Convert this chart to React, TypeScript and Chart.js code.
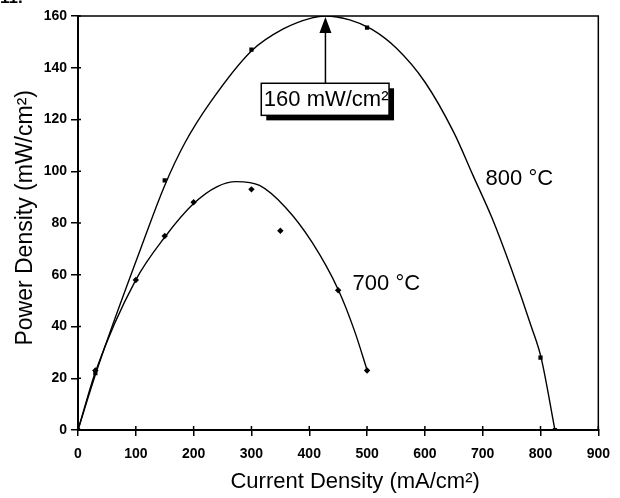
import { useEffect, useRef } from "react";
import { Chart, registerables } from "chart.js";

Chart.register(...registerables);

// ---- data ----
const fit800X = [0, 31, 59, 105, 150, 185, 230, 300, 355, 405, 428, 470, 507, 550, 600, 650, 683, 716, 750, 784, 801, 825];
const fit800Y = [0, 22, 40, 68, 94.5, 111, 127, 146.5, 155, 159.3, 160, 158.5, 155, 147.7, 134.5, 115, 98.5, 82, 62, 40, 28, 0];

const fit700X = [0, 31, 100, 150, 200, 240, 274, 314, 359, 405, 450, 478, 501];
const fit700Y = [0, 23, 58, 74.5, 87.5, 94, 96, 94.5, 86, 72.5, 54.3, 38.5, 22.5];

const meas800X = [0, 30, 150, 300, 500, 800, 825];
const meas800Y = [0, 22, 96.5, 147, 155.5, 28, 0];

const meas700X = [0, 30, 100, 150, 200, 300, 350, 450, 500];
const meas700Y = [0, 23, 58, 75, 88, 93, 77, 54, 23];

const seriesNames = ["800 °C", "700 °C"];
const peakText = "160 mW/cm²";
const peakX = 428;
const peakY = 160;
const xTitle = "Current Density (mA/cm²)";
const yTitle = "Power Density (mW/cm²)";
const xMin = 0, xMax = 900, xStep = 100;
const yMin = 0, yMax = 160, yStep = 20;

const FONT = "'Liberation Sans', Arial, sans-serif";

const zip = (xs: number[], ys: number[]) => xs.map((x, i) => ({ x, y: ys[i] }));

const decorPlugin = {
  id: "decor",
  afterDraw(chart: any) {
    const ctx = chart.ctx as CanvasRenderingContext2D;
    const a = chart.chartArea;
    const xs = chart.scales.x;
    const ys = chart.scales.y;
    ctx.save();
    // frame
    ctx.strokeStyle = "#000";
    ctx.lineWidth = 1.5;
    ctx.strokeRect(a.left, a.top, a.right - a.left, a.bottom - a.top);
    ctx.lineWidth = 2;
    ctx.beginPath();
    ctx.moveTo(a.left, a.top);
    ctx.lineTo(a.left, a.bottom);
    ctx.lineTo(a.right, a.bottom);
    ctx.stroke();
    // inner tick marks
    ctx.lineWidth = 1.5;
    ctx.beginPath();
    for (let v = xMin; v <= xMax; v += xStep) {
      const px = xs.getPixelForValue(v);
      ctx.moveTo(px, a.bottom);
      ctx.lineTo(px, a.bottom - 4);
    }
    for (let v = yMin; v <= yMax; v += yStep) {
      const py = ys.getPixelForValue(v);
      ctx.moveTo(a.left, py);
      ctx.lineTo(a.left + 3, py);
    }
    ctx.stroke();

    ctx.fillStyle = "#000";
    // axis titles
    ctx.font = `22px ${FONT}`;
    ctx.textAlign = "center";
    ctx.textBaseline = "middle";
    ctx.fillText(xTitle, (a.left + a.right) / 2 + 17, a.bottom + 52);
    ctx.save();
    ctx.translate(26, ys.getPixelForValue(82));
    ctx.rotate(-Math.PI / 2);
    ctx.font = `23px ${FONT}`;
    ctx.fillText(yTitle, 0, 0);
    ctx.restore();

    // series labels
    ctx.font = `22px ${FONT}`;
    ctx.textAlign = "left";
    ctx.fillText(seriesNames[0], xs.getPixelForValue(705), ys.getPixelForValue(97));
    ctx.fillText(seriesNames[1], xs.getPixelForValue(475), ys.getPixelForValue(56.4));

    // peak annotation box
    const bx0 = xs.getPixelForValue(317);
    const bx1 = xs.getPixelForValue(538);
    const by0 = ys.getPixelForValue(134);
    const by1 = ys.getPixelForValue(121.6);
    ctx.fillRect(bx0 + 5, by0 + 5, bx1 - bx0, by1 - by0);
    ctx.fillStyle = "#fff";
    ctx.fillRect(bx0, by0, bx1 - bx0, by1 - by0);
    ctx.strokeStyle = "#000";
    ctx.lineWidth = 1.5;
    ctx.strokeRect(bx0, by0, bx1 - bx0, by1 - by0);
    ctx.fillStyle = "#000";
    ctx.font = `22px ${FONT}`;
    ctx.textAlign = "center";
    ctx.fillText(peakText, (bx0 + bx1) / 2 + 1, (by0 + by1) / 2 + 1);

    // arrow
    const ax = xs.getPixelForValue(peakX);
    const tip = ys.getPixelForValue(peakY) + 1;
    ctx.lineWidth = 1.5;
    ctx.beginPath();
    ctx.moveTo(ax, by0);
    ctx.lineTo(ax, tip + 12);
    ctx.stroke();
    ctx.beginPath();
    ctx.moveTo(ax, tip);
    ctx.lineTo(ax - 6, tip + 16);
    ctx.lineTo(ax + 6, tip + 16);
    ctx.closePath();
    ctx.fill();

    // cropped figure number remnant at top-left
    ctx.font = `bold 17px ${FONT}`;
    ctx.textAlign = "left";
    ctx.textBaseline = "alphabetic";
    ctx.fillText("11.", 0, 3);
    ctx.restore();
  },
};

export default function App() {
  const ref = useRef<HTMLCanvasElement | null>(null);
  useEffect(() => {
    if (!ref.current) return;
    const lineDs = (xs: number[], ys: number[]) => ({
      type: "line" as const,
      data: zip(xs, ys),
      borderColor: "#000",
      borderWidth: 1.4,
      pointRadius: 0,
      cubicInterpolationMode: "monotone" as const,
      fill: false,
    });
    const chart = new Chart(ref.current, {
      type: "scatter",
      data: {
        datasets: [
          { ...lineDs(fit800X, fit800Y), label: seriesNames[0] + " fit" },
          { ...lineDs(fit700X, fit700Y), label: seriesNames[1] + " fit" },
          {
            label: seriesNames[0],
            data: zip(meas800X, meas800Y),
            pointStyle: "rect",
            pointRadius: 3,
            backgroundColor: "#000",
            borderColor: "#000",
            borderWidth: 0,
          },
          {
            label: seriesNames[1],
            data: zip(meas700X, meas700Y),
            pointStyle: "rectRot",
            pointRadius: 3.2,
            backgroundColor: "#000",
            borderColor: "#000",
            borderWidth: 0,
          },
        ],
      } as any,
      options: {
        animation: false,
        responsive: false,
        maintainAspectRatio: false,
        layout: { padding: { left: 0, right: 12, top: 16, bottom: 0 } },
        plugins: { legend: { display: false }, tooltip: { enabled: false } },
        scales: {
          x: {
            type: "linear",
            min: xMin,
            max: xMax,
            ticks: { stepSize: xStep, color: "#000", padding: 10, font: { family: FONT, size: 14, weight: "bold" } },
            grid: { display: true, drawOnChartArea: false, drawTicks: true, tickLength: 6, color: "#000", lineWidth: 1.5 },
            border: { display: true, color: "#000", width: 2 },
            afterFit: (s: any) => { s.height = 68; },
          },
          y: {
            type: "linear",
            min: yMin,
            max: yMax,
            ticks: { stepSize: yStep, color: "#000", padding: 4, font: { family: FONT, size: 14, weight: "bold" } },
            grid: { display: true, drawOnChartArea: false, drawTicks: true, tickLength: 7, color: "#000", lineWidth: 1.5 },
            border: { display: true, color: "#000", width: 2 },
            afterFit: (s: any) => { s.width = 78; },
          },
        },
      } as any,
      plugins: [decorPlugin],
    });
    return () => chart.destroy();
  }, []);
  return (
    <div style={{ position: "fixed", left: 0, top: 0, width: 620, height: 498, background: "#fff" }}>
      <canvas ref={ref} width={620} height={498} style={{ display: "block" }} />
    </div>
  );
}
